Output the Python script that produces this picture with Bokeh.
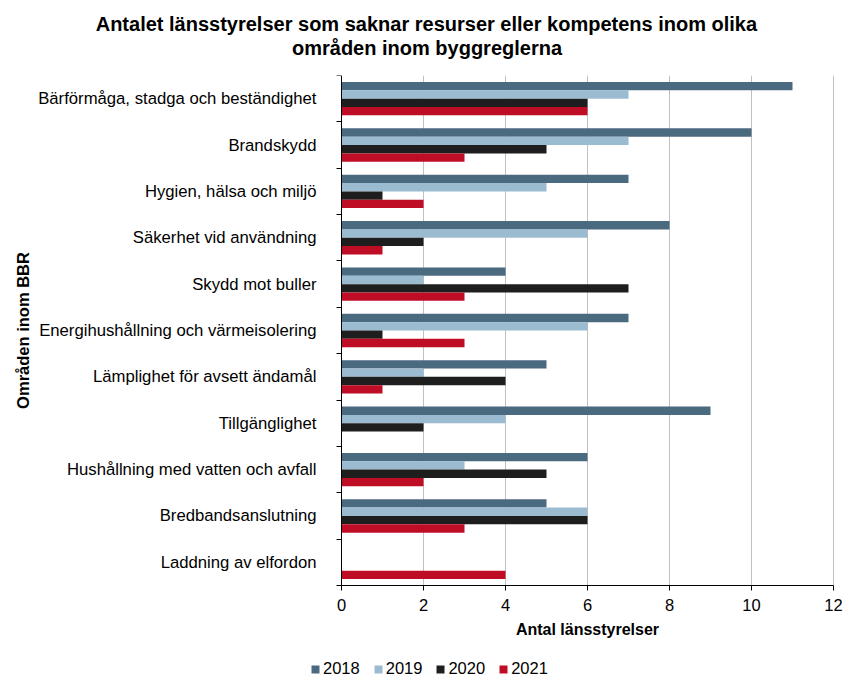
from bokeh.plotting import figure
from bokeh.models import FixedTicker, Range1d, Title, Legend, LegendItem, ColumnDataSource
from bokeh.embed import file_html
from bokeh.resources import INLINE

# ---- data ----
categories = [
    "Bärförmåga, stadga och beständighet",
    "Brandskydd",
    "Hygien, hälsa och miljö",
    "Säkerhet vid användning",
    "Skydd mot buller",
    "Energihushållning och värmeisolering",
    "Lämplighet för avsett ändamål",
    "Tillgänglighet",
    "Hushållning med vatten och avfall",
    "Bredbandsanslutning",
    "Laddning av elfordon",
]
years = ["2018", "2019", "2020", "2021"]
v2018 = [11, 10, 7, 8, 4, 7, 5, 9, 6, 5, 0]
v2019 = [7, 7, 5, 6, 2, 6, 2, 4, 3, 6, 0]
v2020 = [6, 5, 1, 2, 7, 1, 4, 2, 5, 6, 0]
v2021 = [6, 3, 2, 1, 3, 3, 1, 0, 2, 3, 4]
x_ticks = [0, 2, 4, 6, 8, 10, 12]
title_lines = ["Antalet länsstyrelser som saknar resurser eller kompetens inom olika",
               "områden inom byggreglerna"]
x_title = "Antal länsstyrelser"
y_title = "Områden inom BBR"

series = [v2018, v2019, v2020, v2021]
colors = ["#4a6a80", "#9bbbd0", "#1e1e1e", "#c00d26"]

FONT = "Liberation Sans"
n = len(categories)
xmax = x_ticks[-1]
centers = [n - 0.5 - i for i in range(n)]
boundaries = [float(i) for i in range(n + 1)]
bar_h = 0.18

# layout geometry (pixels): plot area 341..833 x 75..585 inside an 846x679 canvas
W, H = 846, 679
L, R, T, B = 341, 833, 75, 585
ppx = (R - L) / xmax
ppy = (B - T) / n

p = figure(width=W, height=H, output_backend="svg", toolbar_location=None,
           x_range=Range1d(-L / ppx, xmax + (W - R) / ppx),
           y_range=Range1d(-(H - B) / ppy, n),
           min_border_left=0, min_border_right=0, min_border_top=T, min_border_bottom=0)
p.outline_line_color = None
p.background_fill_color = "white"
p.border_fill_color = "white"
p.xgrid.visible = False
p.ygrid.visible = False

# vertical gridlines at the x ticks
p.segment(x0=x_ticks[1:], x1=x_ticks[1:], y0=0, y1=n, line_color="#c0c0c0", line_width=1)

items = []
for j, (yr, vals, col) in enumerate(zip(years, series, colors)):
    off = (1.5 - j) * bar_h
    src = ColumnDataSource(dict(y=[c + off for c in centers], right=vals, cat=categories))
    r = p.hbar(y="y", left=0, right="right", height=bar_h, source=src,
               fill_color=col, line_color=None)
    items.append(LegendItem(label=yr, renderers=[r]))

# x axis (placed at y = 0)
xa = p.xaxis[0]
xa.fixed_location = 0
xa.bounds = (0, xmax)
xa.ticker = FixedTicker(ticks=x_ticks, minor_ticks=[])
xa.major_tick_out = 5
xa.major_tick_in = 0
xa.minor_tick_out = 0
xa.axis_line_color = "black"
xa.major_tick_line_color = "black"
xa.major_label_text_font = FONT
xa.major_label_text_font_size = "16.5px"
xa.major_label_text_color = "black"
xa.major_label_standoff = 8
xa.axis_label = x_title
xa.axis_label_text_font = FONT
xa.axis_label_text_font_style = "bold"
xa.axis_label_text_font_size = "16px"
xa.axis_label_text_color = "black"
xa.axis_label_standoff = 7

# y axis (placed at x = 0)
ya = p.yaxis[0]
ya.fixed_location = 0
ya.bounds = (0, n)
ya.ticker = FixedTicker(ticks=centers, minor_ticks=boundaries)
ya.major_label_overrides = {c: cat for c, cat in zip(centers, categories)}
ya.major_tick_out = 0
ya.major_tick_in = 0
ya.minor_tick_out = 5
ya.minor_tick_in = 0
ya.minor_tick_line_color = "black"
ya.axis_line_color = "black"
ya.major_label_text_font = FONT
ya.major_label_text_font_size = "16.7px"
ya.major_label_text_color = "black"
ya.major_label_standoff = 20
ya.axis_label = y_title
ya.axis_label_text_font = FONT
ya.axis_label_text_font_style = "bold"
ya.axis_label_text_font_size = "16.5px"
ya.axis_label_text_color = "black"
ya.axis_label_standoff = 3

# title: spacer (closest to plot), then line 2, then line 1
p.add_layout(Title(text=" ", text_font_size="2px", standoff=12), "above")
p.add_layout(Title(text=title_lines[1], align="left", offset=291.5, standoff=0,
                   vertical_align="middle", text_font=FONT, text_font_style="bold",
                   text_font_size="20px", text_color="black"), "above")
p.add_layout(Title(text=title_lines[0], align="left", offset=95.2, standoff=0,
                   vertical_align="middle", text_font=FONT, text_font_style="bold",
                   text_font_size="20px", text_color="black"), "above")

legend = Legend(items=items, orientation="horizontal", location=(310, 1),
                glyph_width=10, glyph_height=10, label_height=16, label_standoff=3,
                spacing=13, padding=0, margin=0,
                label_text_font=FONT, label_text_font_size="16.5px", label_text_color="black",
                background_fill_alpha=0, border_line_color=None)
p.add_layout(legend, "center")

open("out.html", "w").write(file_html(p, INLINE))
